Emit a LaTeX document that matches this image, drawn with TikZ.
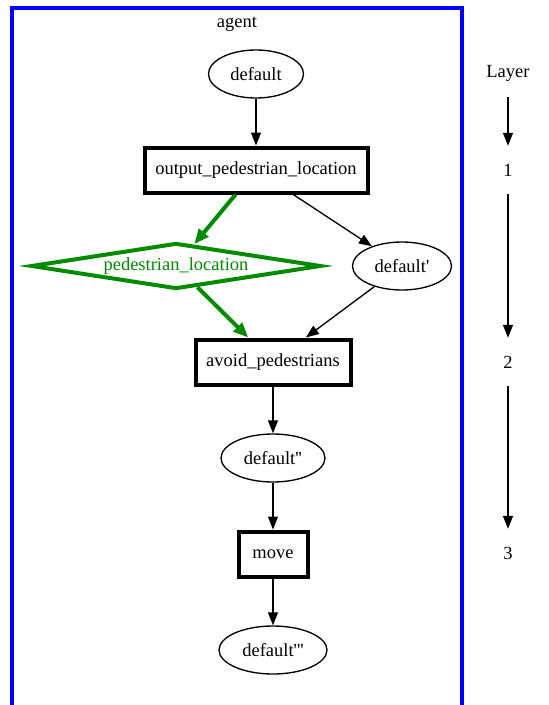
\documentclass[tikz,border=0pt]{standalone}
\usetikzlibrary{arrows.meta,shapes.geometric}
\font\gvf="Liberation Serif" at 18.5pt
\definecolor{gvgreen}{HTML}{008B00}
\begin{document}
\begin{tikzpicture}[x=1pt,y=-1pt,
  every node/.style={font=\gvf, inner sep=0pt},
  ell/.style={draw, ellipse, line width=1.33pt, minimum height=48pt},
  taskbox/.style={draw, rectangle, line width=4pt, minimum height=45pt},
  datadiam/.style={draw=gvgreen, text=gvgreen, diamond, aspect=6.4, line width=4pt, minimum width=290pt, minimum height=46pt},
  lay/.style={minimum height=48pt},
  arr/.style={-{Triangle[length=13pt,width=10pt]}, line width=1.33pt},
  garr/.style={-{Triangle[length=15pt,width=12pt]}, line width=4pt, draw=gvgreen}]
\useasboundingbox (0,0) rectangle (549,705);
\draw[blue, line width=4pt] (12,707) -- (12,8) -- (462,8) -- (462,707);
\node (agent) at (237,24) {agent};
\node[ell, minimum width=95pt] (d0) at (256,74) {default};
\node[taskbox, minimum width=223pt] (opl) at (256,170) {output\_pedestrian\_location};
\node[datadiam] (pl) at (176,266) {pedestrian\_location};
\node[ell, minimum width=99pt] (d1) at (402,266) {default'};
\node[taskbox, minimum width=155pt] (avoid) at (273,362) {avoid\_pedestrians};
\node[ell, minimum width=104pt] (d2) at (273,458) {default''};
\node[taskbox, minimum width=69pt] (move) at (273,554) {move};
\node[ell, minimum width=108pt] (d3) at (273,650) {default'''};
\node[lay] (layer) at (508,73) {Layer};
\node[lay] (l1) at (508,170) {1};
\node[lay] (l2) at (508,362) {2};
\node[lay] (l3) at (508,553) {3};
\draw[arr] (d0) -- (opl);
\draw[garr] (opl) -- (pl);
\draw[arr] (opl) -- (d1);
\draw[garr] (pl) -- (avoid);
\draw[arr] (d1) -- (avoid);
\draw[arr] (avoid) -- (d2);
\draw[arr] (d2) -- (move);
\draw[arr] (move) -- (d3);
\draw[arr] (layer) -- (l1);
\draw[arr] (l1) -- (l2);
\draw[arr] (l2) -- (l3);
\end{tikzpicture}
\end{document}
